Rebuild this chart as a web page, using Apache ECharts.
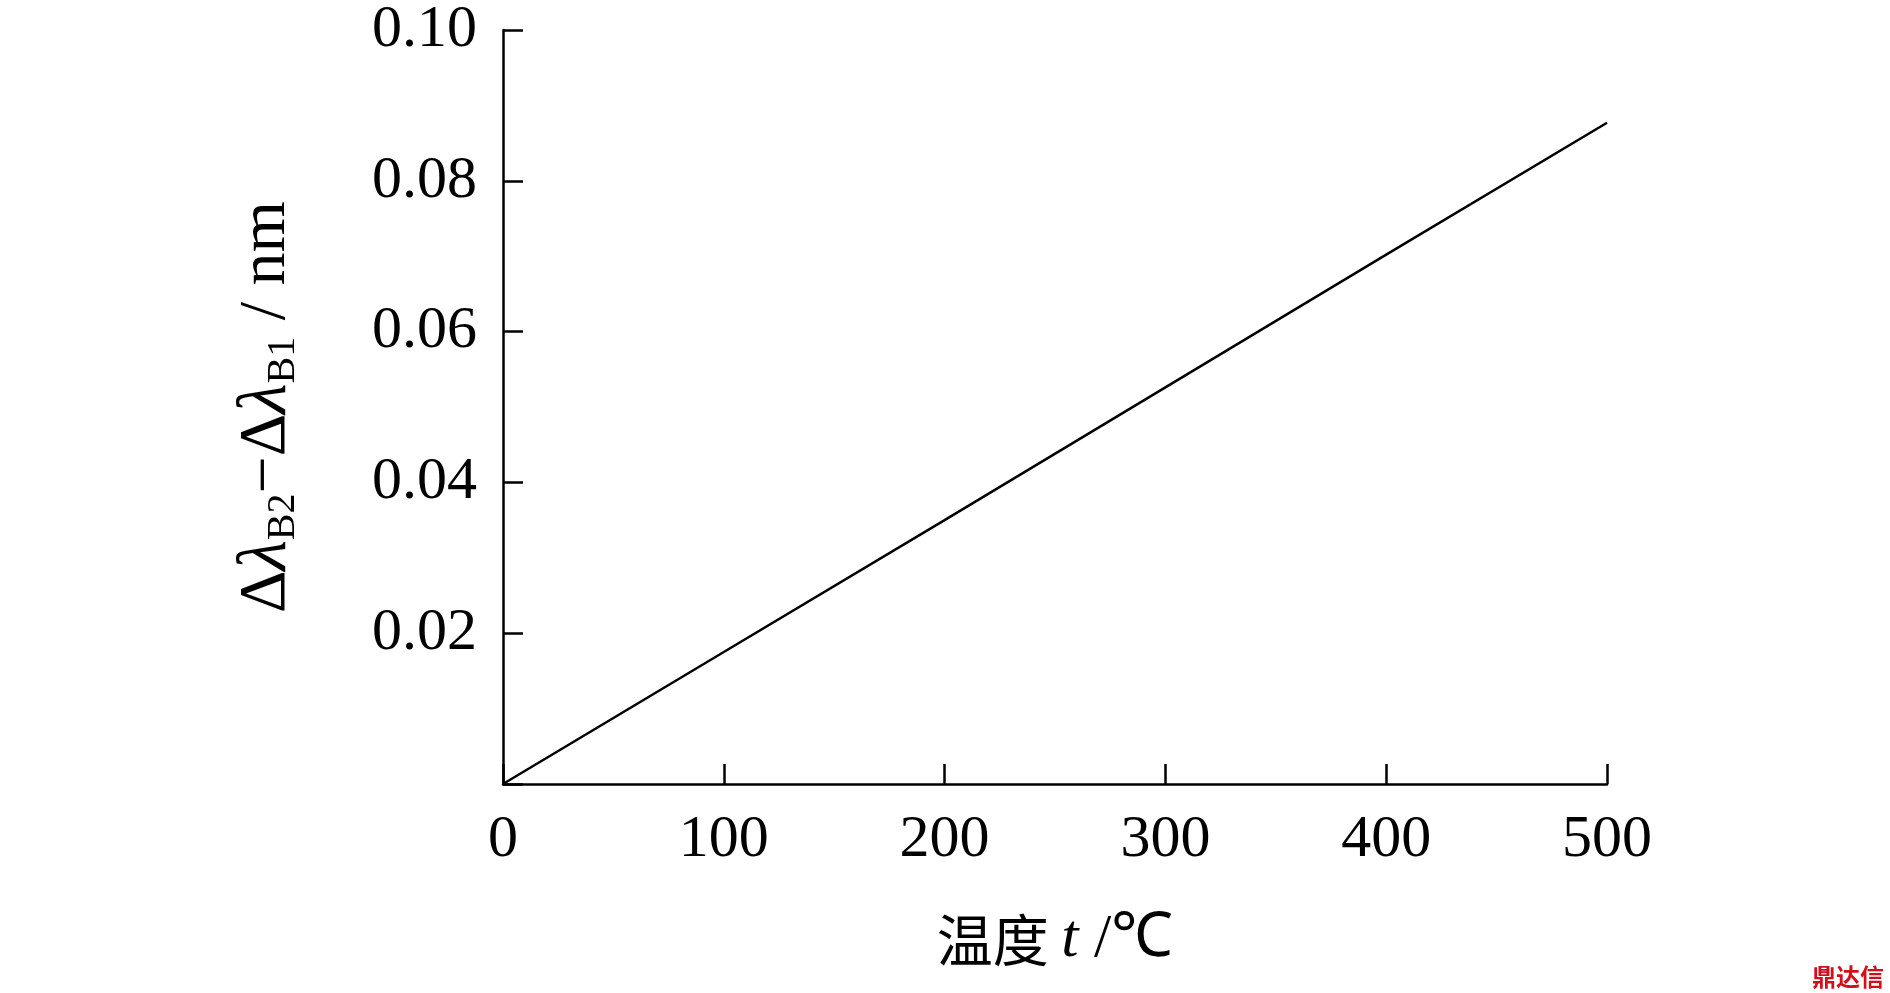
<!DOCTYPE html><html><head><meta charset="utf-8"><script src="https://cdn.jsdelivr.net/npm/echarts@6/dist/echarts.min.js"></script></head><body style="margin:0;background:#fff"><div id="c" style="width:1890px;height:993px"></div><script>
const temps=[0,100,200,300,400,500];
const diffs=[0,0.0175,0.035,0.0526,0.0702,0.0877];
const ch=echarts.init(document.getElementById('c'));
const F='Liberation Serif';
ch.setOption({backgroundColor:'#fff',animation:false,
grid:{left:503,right:283,top:27,bottom:209},
xAxis:{type:'value',min:0,max:500,interval:100,
 axisLine:{lineStyle:{color:'#000',width:2.5}},axisTick:{inside:true,length:20,lineStyle:{color:'#000',width:2.5}},
 splitLine:{show:false},axisLabel:{color:'#000',fontFamily:F,fontSize:60,margin:26},
 name:'{cn|温度 }{it|t}{n| /℃}',nameLocation:'middle',nameGap:125,
 nameTextStyle:{rich:{cn:{fontFamily:'Noto Sans CJK SC',fontSize:56,color:'#000'},it:{fontFamily:F,fontStyle:'italic',fontSize:62,color:'#000'},n:{fontFamily:F,fontSize:62,color:'#000'}}}},
yAxis:{type:'value',min:0,max:0.1,interval:0.02,
 axisLine:{show:true,lineStyle:{color:'#000',width:2.5}},axisTick:{inside:true,length:20,lineStyle:{color:'#000',width:2.5}},
 splitLine:{show:false},axisLabel:{color:'#000',fontFamily:F,fontSize:60,margin:26,formatter:v=>v===0?'':v.toFixed(2)},
 name:'{n|Δ}{it|λ}{s|B2}{n|−Δ}{it|λ}{s|B1}{n| / nm}',nameLocation:'middle',nameGap:200,
 nameTextStyle:{rich:{n:{fontFamily:F,fontSize:66,color:'#000'},it:{fontFamily:F,fontStyle:'italic',fontSize:70,color:'#000'},s:{fontFamily:F,fontSize:40,color:'#000',verticalAlign:'bottom',padding:[32,0,0,0]}}}},
series:[{type:'line',data:temps.map((t,i)=>[t,diffs[i]]),showSymbol:false,lineStyle:{color:'#000',width:2.5}}],
graphic:[{type:'text',right:6,bottom:4,style:{text:'鼎达信',fontFamily:'Noto Sans CJK SC',fontSize:24,fontWeight:'bold',fill:'#d0101a'}}]
});
</script></body></html>
